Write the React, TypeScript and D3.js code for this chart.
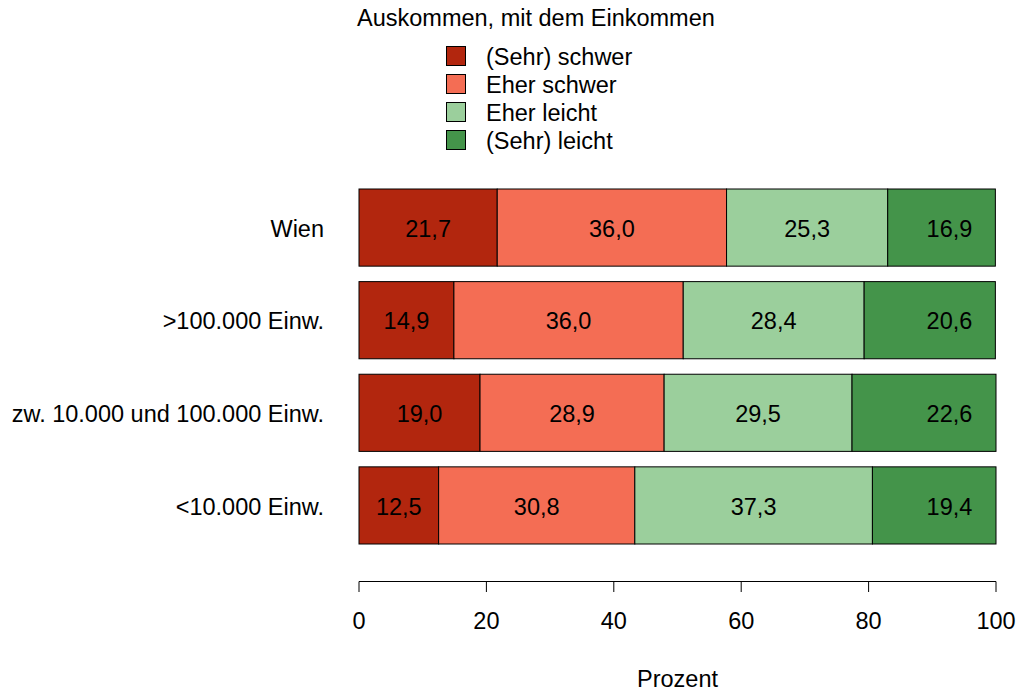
import * as d3 from "d3";

const CATEGORIES = ["Wien", ">100.000 Einw.", "zw. 10.000 und 100.000 Einw.", "<10.000 Einw."];
const SERIES = ["(Sehr) schwer", "Eher schwer", "Eher leicht", "(Sehr) leicht"];
const COLORS = ["#B2260E", "#F46D54", "#9BCF9C", "#44944A"];
const SEHR_SCHWER = [21.7, 14.9, 19.0, 12.5];
const EHER_SCHWER = [36.0, 36.0, 28.9, 30.8];
const EHER_LEICHT = [25.3, 28.4, 29.5, 37.3];
const SEHR_LEICHT = [16.9, 20.6, 22.6, 19.4];
const X_TICKS = [0, 20, 40, 60, 80, 100];
// last segment's label sits at a fixed spot near the right end
const LAST_LABEL_AT = 92.7;

const W = 1018, H = 691;
const FONT = "Liberation Sans, Arial, sans-serif";
const FS = 23.5;

export default function App() {
  const x = d3.scaleLinear().domain([0, 100]).range([359, 996]);
  const y = d3.scaleBand<string>().domain(CATEGORIES).range([189, 544]).paddingInner(0.167).paddingOuter(0);
  const values = [SEHR_SCHWER, EHER_SCHWER, EHER_LEICHT, SEHR_LEICHT];

  const rows = CATEGORIES.map((c, i) => {
    let acc = 0;
    return values.map((v, s) => {
      const start = acc;
      acc += v[i];
      return { cat: c, s, start, end: acc, val: v[i] };
    });
  });
  const fmt = (v: number) => v.toFixed(1).replace(".", ",");

  return (
    <svg width={W} height={H} style={{ position: "absolute", left: 0, top: 0, background: "#fff" }} fontFamily={FONT}>
      <text x={357} y={18} dy="0.35em" fontSize={FS}>Auskommen, mit dem Einkommen</text>
      {SERIES.map((s, i) => (
        <g key={s} transform={`translate(0,${56 + i * 28})`}>
          <rect x={446.5} y={-9.5} width={19} height={19} fill={COLORS[i]} stroke="#000" />
          <text x={486} y={1} dy="0.35em" fontSize={FS}>{s}</text>
        </g>
      ))}

      {rows.map((segs) => (
        <g key={segs[0].cat}>
          {segs.map((d) => (
            <rect key={d.s} x={x(d.start)} y={y(d.cat)!} width={x(d.end) - x(d.start)} height={y.bandwidth()}
              fill={COLORS[d.s]} stroke="#000" strokeWidth={1} />
          ))}
          {segs.map((d) => (
            <text key={"t" + d.s} x={x(d.s === SERIES.length - 1 ? LAST_LABEL_AT : (d.start + d.end) / 2)}
              y={y(d.cat)! + y.bandwidth() / 2 + 1} dy="0.35em" textAnchor="middle" fontSize={FS}>{fmt(d.val)}</text>
          ))}
          <text x={324} y={y(segs[0].cat)! + y.bandwidth() / 2 + 1} dy="0.35em" textAnchor="end" fontSize={FS}>{segs[0].cat}</text>
        </g>
      ))}

      <line x1={x(0)} x2={x(100)} y1={581.5} y2={581.5} stroke="#000" />
      {X_TICKS.map((t) => (
        <g key={t}>
          <line x1={x(t)} x2={x(t)} y1={581.5} y2={592} stroke="#000" />
          <text x={x(t)} y={621} dy="0.35em" textAnchor="middle" fontSize={FS}>{t}</text>
        </g>
      ))}
      <text x={x(50)} y={679} dy="0.35em" textAnchor="middle" fontSize={FS}>Prozent</text>
    </svg>
  );
}
